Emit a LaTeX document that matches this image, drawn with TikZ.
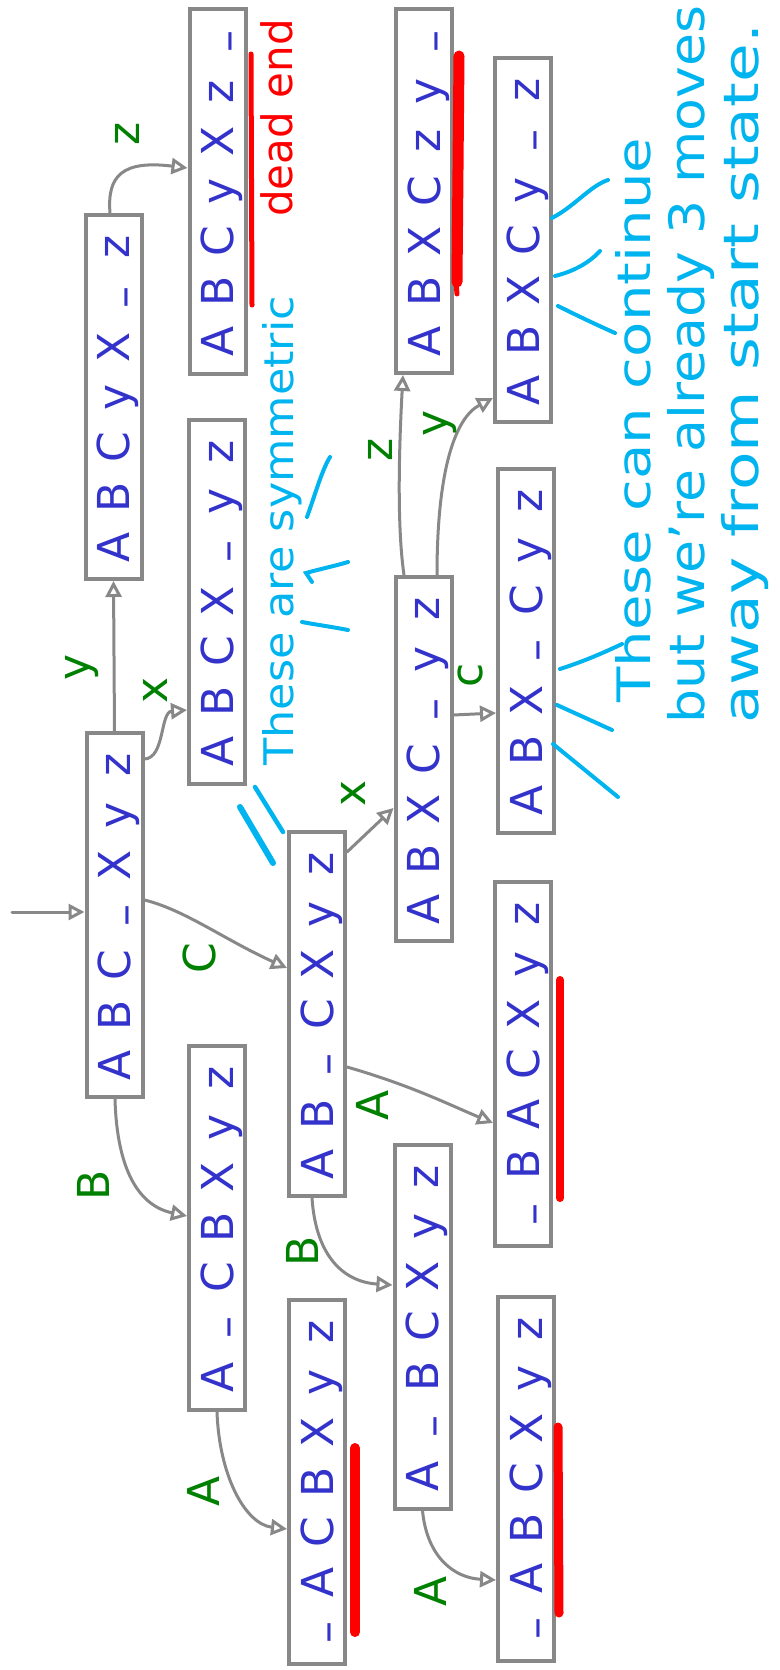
\documentclass[tikz,border=0pt]{standalone}
\usepackage{fontspec}
\setmainfont{DejaVu Sans}
\usetikzlibrary{arrows.meta,calc}

\definecolor{linegray}{RGB}{136,136,136}
\definecolor{stateblue}{RGB}{51,51,204}
\definecolor{movegreen}{RGB}{0,128,0}
\definecolor{noteblue}{RGB}{0,180,240}
\definecolor{markred}{RGB}{255,0,0}

% one slot of a configuration, and the blank slot
\newcommand\slot[1]{\makebox[50pt]{#1}}
\newcommand\blank{\raisebox{-0.2em}{–}}
\newcommand\config[7]{\slot{#1}\slot{#2}\slot{#3}\slot{#4}\slot{#5}\slot{#6}\slot{#7}}

\begin{document}
\begin{tikzpicture}[x=1pt,y=-1pt,
  state/.style={draw=linegray, line width=4pt, rotate=90,
    minimum width=364pt, minimum height=56pt, inner sep=0pt,
    text=stateblue, font=\fontsize{44}{48}\selectfont,
    text height=32pt, text depth=0pt},
  move/.style={draw=linegray, line width=3pt, line cap=round,
    -{Triangle[open,length=16pt,width=16pt]}},
  lbl/.style={text=movegreen, rotate=90, inner sep=0pt,
    font=\fontsize{44}{48}\selectfont},
  note/.style={text=noteblue, rotate=90, inner sep=0pt,
    font=\fontsize{50}{56}\selectfont},
  tick/.style={draw=noteblue, line width=4pt, line cap=round},
  deadmark/.style={draw=markred, line cap=round}
]
\useasboundingbox (0,0) rectangle (779,1670);

% configurations
\node[state] (S0)  at (114.5,915)  {\config{A}{B}{C}{\blank}{X}{y}{z}};
\node[state] (S1)  at (113.5,397)  {\config{A}{B}{C}{y}{X}{\blank}{z}};
\node[state] (S2)  at (217.5,191.5){\config{A}{B}{C}{y}{X}{z}{\blank}};
\node[state] (S3)  at (217,601.5)  {\config{A}{B}{C}{X}{\blank}{y}{z}};
\node[state] (S4)  at (217,1227.5) {\config{A}{\blank}{C}{B}{X}{y}{z}};
\node[state] (S5)  at (317,1482)   {\config{\blank}{A}{C}{B}{X}{y}{z}};
\node[state] (S6)  at (317,1014)   {\config{A}{B}{\blank}{C}{X}{y}{z}};
\node[state] (S7)  at (423.5,759)  {\config{A}{B}{X}{C}{\blank}{y}{z}};
\node[state] (S8)  at (424,191)    {\config{A}{B}{X}{C}{z}{y}{\blank}};
\node[state] (S9)  at (422.5,1326.5){\config{A}{\blank}{B}{C}{X}{y}{z}};
\node[state] (S10) at (523,1064)   {\config{\blank}{B}{A}{C}{X}{y}{z}};
\node[state] (S11) at (526,650.5)  {\config{A}{B}{X}{\blank}{C}{y}{z}};
\node[state] (S12) at (523,240)    {\config{A}{B}{X}{C}{y}{\blank}{z}};
\node[state] (S13) at (526,1478.5) {\config{\blank}{A}{B}{C}{X}{y}{z}};

% start
\coordinate (in0) at (12,912);
\draw[move] (in0) -- (S0.north |- in0);

% moves
\draw[move] (S0.east) -- (S1.west);
\draw[move] (S0.south |- 0,759) .. controls (165,758) and (160,712) .. (S3.north |- 0,710);
\draw[move] (S1.east -| 110,0) .. controls (107,176) and (122,160) .. (S2.north |- 0,168);
\draw[move] (S0.south |- 0,900) .. controls (185,910) and (225,940) .. (S6.north |- 0,968);
\draw[move] (S0.west -| 115,0) .. controls (117,1172) and (140,1206) .. (S4.north |- 0,1216);
\draw[move] (S6.south |- 0,852) -- (S7.north |- 0,808);
\draw[move] (S6.south |- 0,1067) .. controls (410,1085) and (450,1105) .. (S10.north |- 0,1123);
\draw[move] (S6.west -| 312,0) .. controls (316,1258) and (345,1282) .. (S9.north |- 0,1285);
\draw[move] (S4.west) .. controls (219,1475) and (245,1524) .. (S5.north |- 0,1529);
\draw[move] (S9.west) .. controls (427,1558) and (455,1578) .. (S13.north |- 0,1580);
\draw[move] (S7.south |- 0,715) -- (S11.north |- 0,713);
\draw[move] (S7.east -| 404,0) .. controls (396,520) and (400,430) .. (S8.west -| 403,0);
\draw[move] (S7.east -| 437,0) .. controls (437,470) and (455,418) .. (S12.north |- 0,398);

% move labels
\node[lbl] (m1)  at (82,667)   {y};
\node[lbl] (m2)  at (155,690)  {x};
\node[lbl] (m3)  at (127,134)  {z};
\node[lbl] (m4)  at (199,958)  {C};
\node[lbl] (m5)  at (93,1185)  {B};
\node[lbl] (m6)  at (353,793)  {x};
\node[lbl] (m7)  at (372,1105) {A};
\node[lbl] (m8)  at (302,1251) {B};
\node[lbl] (m9)  at (203,1491) {A};
\node[lbl] (m10) at (430,1591) {A};
\node[lbl] (m11) at (470,675)  {c};
\node[lbl] (m12) at (380,450)  {z};
\node[lbl] (m13) at (440,423)  {y};

% dead ends
\draw[deadmark, line width=5pt]  (251,54) -- (252,305);
\draw[deadmark, line width=11pt] (459,56) -- (457,282);
\draw[deadmark, line width=5pt]  (455,270) -- (457,294);
\draw[deadmark, line width=10pt] (355,1448) -- (355,1632);
\draw[deadmark, line width=8pt]  (560,980) -- (560,1198);
\draw[deadmark, line width=9pt]  (558,1427) -- (559,1613);
\node[rotate=90, text=markred, inner sep=0pt, font=\fontsize{42}{46}\selectfont]
  (dead) at (277,118) {dead end};

% symmetry notes
\node[note, anchor=base west]
  (sym) at (293,766) {\resizebox{470pt}{31pt}{These are symmetric}};
\draw[tick] (307,517) .. controls (316,492) and (322,470) .. (330,457);
\draw[tick] (312,582) -- (306,573) .. controls (320,569) and (335,566) .. (348,562);
\draw[tick] (302,622) .. controls (318,625) and (333,627) .. (348,630);
\draw[tick, line width=6pt] (240,807) -- (273,863);
\draw[tick, line width=4.5pt] (255,787) -- (283,832);

% continuation notes
\draw[tick] (552,218) .. controls (575,206) and (590,186) .. (608,180);
\draw[tick] (555,276) .. controls (575,271) and (590,262) .. (600,251);
\draw[tick] (558,306) .. controls (578,316) and (597,325) .. (615,333);
\draw[tick] (560,669) .. controls (585,661) and (605,652) .. (622,644);
\draw[tick] (557,705) -- (612,730);
\draw[tick] (553,744) -- (618,797);
\node[note, anchor=base west]
  (c1) at (650,703) {\resizebox{565pt}{35pt}{These can continue}};
\node[note, anchor=base west]
  (c2) at (704,724) {\resizebox{718pt}{37pt}{but we're already 3 moves}};
\node[note, anchor=base west]
  (c3) at (758,724) {\resizebox{700pt}{37pt}{away from start state.}};
\end{tikzpicture}
\end{document}
